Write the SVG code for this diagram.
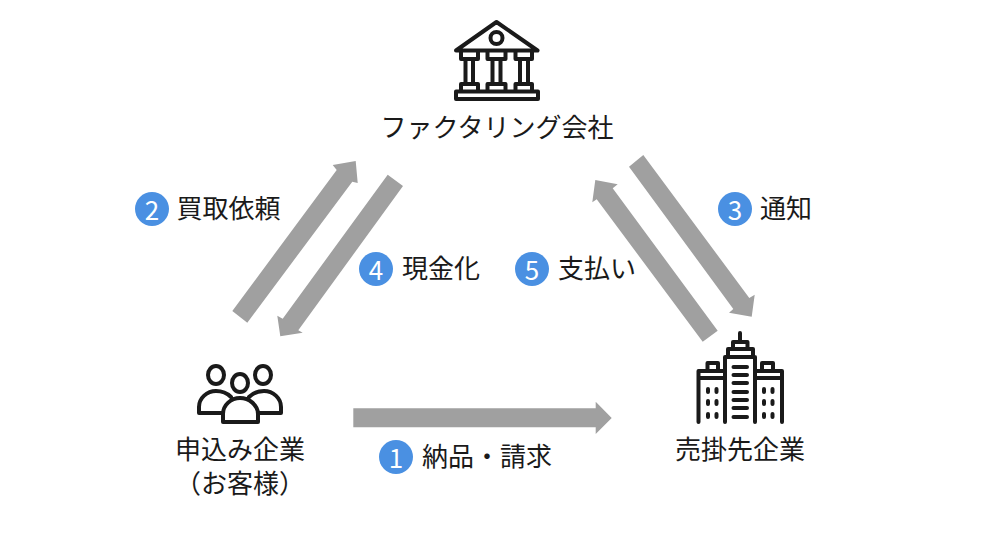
<svg xmlns="http://www.w3.org/2000/svg" width="988" height="540" viewBox="0 0 988 540">
<style>
text{font-family:"Noto Sans CJK JP","Noto Sans",sans-serif;font-size:26px;fill:#1a1a1a}
.n{font-size:26px;fill:#fff;text-anchor:middle}
.c{text-anchor:middle}
.b{fill:#4a90e2}
.a{fill:#a0a0a0}
.i{fill:none;stroke:#1a1a1a;stroke-width:4;stroke-linecap:round;stroke-linejoin:round}
</style>
<rect width="988" height="540" fill="#fff"/>
<g id="connectors">
<polygon class="a" points="353.300,408.300 595.700,408.300 595.700,401.700 611.700,418 595.700,434 595.700,427.300 353.300,427.300"/>
<polygon class="a" points="232.300,311 336.700,170 332.700,165 355.700,161 357.700,183 352.300,181.700 247.300,322.700"/>
<polygon class="a" points="403,186 298.300,330.300 302.700,332.700 280.300,336.300 277.300,315.700 282.700,318.700 387.700,174.700"/>
<polygon class="a" points="643.300,155 749.300,298 754.700,294.700 751.700,316.700 729,312.700 733.300,309 629,166.700"/>
<polygon class="a" points="702.700,341.700 596.700,199.300 592.300,202.300 595.300,180 617.700,184.300 612.700,188.300 717.700,330.700"/>
</g>
<g id="node-factoring">
<path class="i" d="M456 50.500 L496.500 22 L537.500 50.500 Z M461 51V59H478V51M487.500 51V59H505.500V51M515.500 51V59H532V51M461 59H478M487.500 59H505.500M515.500 59H532M465.500 59V84M473 59V84M492.500 59V84M500.500 59V84M520 59V84M528 59V84M461 91V84H478V91M487.500 91V84H505.500V91M515.500 91V84H532V91M456 91.500H538V99H456Z"/>
<circle class="i" cx="496.500" cy="38" r="6"/>
<text class="c" x="497" y="137">ファクタリング会社</text>
</g>
<g id="node-applicant">
<ellipse class="i" cx="216" cy="375" rx="8" ry="9"/>
<ellipse class="i" cx="263" cy="375" rx="8" ry="9"/>
<ellipse class="i" cx="240" cy="383" rx="8" ry="9"/>
<path class="i" d="M222 413H199V407C199 398 207 391 216 391C222 391 227 393 231 397M249 397C253 393 258 391 264 391C273 391 281 398 281 407V413H258M223 422V414C223 405 231 398 240 398C249 398 258 405 258 414V422Z"/>
<text class="c" x="240" y="459">申込み企業</text>
<text class="c" x="240" y="493">（お客様）</text>
</g>
<g id="node-customer">
<path class="i" d="M740 333V342M733 349V342H747.500V349M728 357V349H753V357M725 422V357H755V422M725 371H698.500V422M755 371H782V422M698.500 378H725M755 378H782M707.500 371V363H718V371M762 371V363H773V371M733.500 367H747M733.500 375H747M733.500 383H747M733.500 392H747M733.500 400H747M733.500 408H747M733.500 417H747M708 389V392M708 401V404M708 414V417M716.500 389V392M716.500 401V404M716.500 414V417M764 389V392M764 401V404M764 414V417M772.500 389V392M772.500 401V404M772.500 414V417"/>
<text class="c" x="740" y="459">売掛先企業</text>
</g>
<g id="label-1"><circle class="b" cx="396" cy="457" r="17"/><text class="n" x="396" y="467.500">1</text><text x="422" y="465.500">納品・請求</text></g>
<g id="label-2"><circle class="b" cx="152" cy="209" r="17"/><text class="n" x="152" y="219.500">2</text><text x="176.500" y="217.500">買取依頼</text></g>
<g id="label-3"><circle class="b" cx="735" cy="209" r="17"/><text class="n" x="735" y="219.500">3</text><text x="760" y="217.500">通知</text></g>
<g id="label-4"><circle class="b" cx="376" cy="269" r="17"/><text class="n" x="376" y="279.500">4</text><text x="402" y="277.500">現金化</text></g>
<g id="label-5"><circle class="b" cx="532" cy="269" r="17"/><text class="n" x="532" y="279.500">5</text><text x="558" y="277.500">支払い</text></g>
</svg>
